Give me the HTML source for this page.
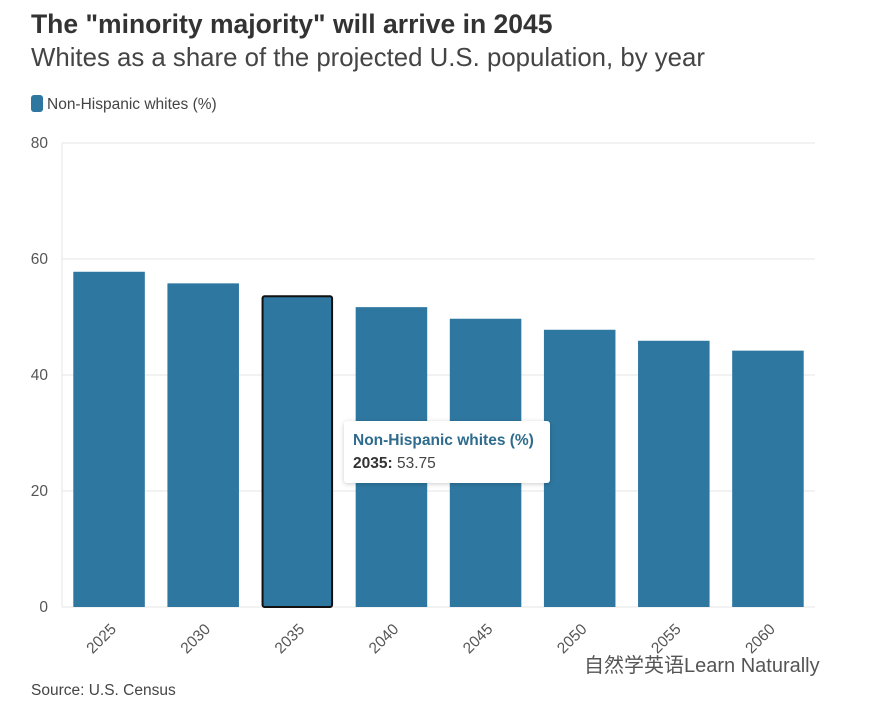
<!DOCTYPE html>
<html><head><meta charset="utf-8"><style>
body{margin:0;width:870px;height:701px;background:#fff;font-family:"Liberation Sans","Noto Sans CJK SC",sans-serif;overflow:hidden;position:relative}
.t{position:absolute;white-space:nowrap}
</style></head><body>
<div class="t" style="left:31px;top:9px;font-size:26.5px;font-weight:bold;color:#333">The "minority majority" will arrive in 2045</div>
<div class="t" style="left:31px;top:44px;font-size:25.8px;color:#444">Whites as a share of the projected U.S. population, by year</div>
<div class="t" style="left:31px;top:95px;font-size:15.5px;color:#444"><span style="display:inline-block;width:12px;height:17px;background:#2e77a0;border-radius:3px;vertical-align:-3px;margin-right:4px"></span>Non-Hispanic whites (%)</div>
<svg id="c" width="870" height="701" style="position:absolute;left:0;top:0"></svg>
<div class="t" style="left:344px;top:421px;width:206px;height:62px;background:#fff;border-radius:3px;box-shadow:0 1px 5px rgba(0,0,0,0.2)">
<div style="position:absolute;left:9px;top:11px;font-size:15.5px;font-weight:bold;color:#2e6b8c">Non-Hispanic whites (%)</div>
<div style="position:absolute;left:9px;top:34px;font-size:15.5px;color:#444"><b style="color:#333">2035:</b> 53.75</div>
</div>
<div class="t" style="left:31px;top:682px;font-size:15.5px;color:#444">Source: U.S. Census</div>
<div class="t" style="left:584px;top:649px;font-size:20px;color:#555">自然学英语Learn Naturally</div>
<script>
const categories=["2025","2030","2035","2040","2045","2050","2055","2060"];
const values=[57.8,55.8,53.75,51.7,49.7,47.8,45.9,44.2];
const yTicks=[0,20,40,60,80];
const svg=document.getElementById('c');const NS='http://www.w3.org/2000/svg';
const x0=62,x1=815,y0=607,y1=143,yMax=80;
const band=(x1-x0)/categories.length;
const y=v=>y0-(v/yMax)*(y0-y1);
const xb=i=>x0+band*i+band*0.12;
function mk(t,a){const e=document.createElementNS(NS,t);for(const k in a)e.setAttribute(k,a[k]);svg.appendChild(e);return e;}
yTicks.forEach(t=>{
 const l=mk('line',{x1:x0,x2:x1,y1:y(t),y2:y(t),stroke:'#e6e6e6','stroke-width':1});
 
 
 const tx=mk('text',{x:48,y:y(t)+5,'text-anchor':'end','font-size':15.5,fill:'#555','font-family':'Liberation Sans, sans-serif'});
 tx.textContent=t;
 
 
});
const ax=mk('line',{x1:x0,x2:x0,y1:y1,y2:y0,stroke:'#e6e6e6'});


categories.forEach((c,i)=>{
 const w=band*0.76,hl=i===2;
 const r=mk('rect',{x:xb(i)+(hl?1:0),y:y(values[i])+(hl?1:0),width:w-(hl?2:0),height:y0-y(values[i])-(hl?1:0),fill:'#2e77a0',stroke:hl?'#111':'none','stroke-width':hl?2:0,rx:hl?2:0});
 
 
 const cx=x0+band*(i+0.5);
 const tx=mk('text',{x:cx+8,y:630,'text-anchor':'end','font-size':15.5,fill:'#555','font-family':'Liberation Sans, sans-serif',transform:`rotate(-45 ${cx+8} 630)`});
 tx.textContent=c;
 
 
});
</script>
</body></html>
